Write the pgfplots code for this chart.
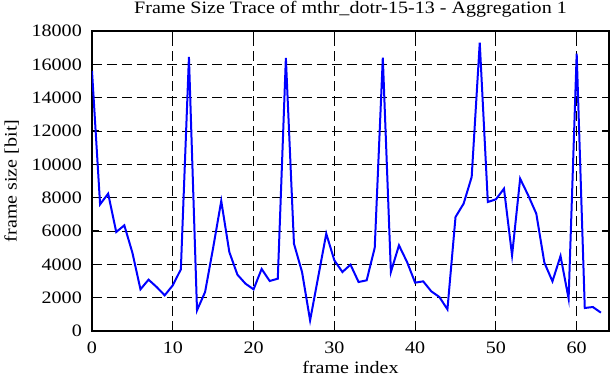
\documentclass[border=0pt]{standalone}
\usepackage{fontspec}
\setmainfont[FakeStretch=1.15]{Liberation Serif}
\usepackage{pgfplots}
\pgfplotsset{compat=1.18}
\begin{document}
\begin{tikzpicture}
\begin{axis}[
  scale only axis,
  width=517bp, height=300bp,
  xmin=0, xmax=64, ymin=0, ymax=18000,
  xtick={0,10,...,60},
  ytick={0,2000,...,18000},
  scaled y ticks=false,
  xticklabel={\pgfmathprintnumber[assume math mode=true,fixed,1000 sep={}]{\tick}},
  yticklabel={\pgfmathprintnumber[assume math mode=true,fixed,1000 sep={}]{\tick}},
  yticklabel style={anchor=east, inner sep=0pt, xshift=-10bp},
  xticklabel style={anchor=base, inner sep=0pt, yshift=-22bp},
  tick label style={font=\fontsize{17.5}{20}\selectfont},
  label style={font=\fontsize{17.5}{20}\selectfont},
  every axis title shift=0pt,
  title style={font=\fontsize{17.5}{20}\selectfont, at={(axis description cs:0.5,1.0567)}, anchor=base, inner sep=0pt},
  title={Frame Size Trace of mthr\_dotr-15-13 - Aggregation 1},
  xlabel={frame index},
  ylabel={frame size [bit]},
  xlabel style={at={(axis description cs:0.5,-0.14)}, anchor=base, inner sep=0pt},
  ylabel style={at={(axis description cs:-0.146,0.5)}, anchor=base, inner sep=0pt},
  grid=major,
  major grid style={black, dash pattern=on 10bp off 5bp, line width=0.9bp},
  tick style={black, line width=1bp},
  major tick length=7bp,
  tick align=inside,
  axis line style={line width=1.7bp},
]
\addplot[color={rgb,255:red,0;green,0;blue,255}, line width=2bp, mark=none] coordinates {
(0,15600) (1,7600) (2,8240) (3,5940) (4,6340) (5,4700) (6,2500) (7,3080)
(8,2640) (9,2140) (10,2740) (11,3700) (12,16440) (13,1240) (14,2340) (15,5000)
(16,7800) (17,4740) (18,3380) (19,2840) (20,2500) (21,3720) (22,3000) (23,3140)
(24,16380) (25,5240) (26,3540) (27,640) (28,3240) (29,5840) (30,4240) (31,3540)
(32,3980) (33,2940) (34,3040) (35,5000) (36,16400) (37,3540) (38,5140) (39,4140)
(40,2900) (41,2980) (42,2380) (43,2040) (44,1300) (45,6840) (46,7640) (47,9240)
(48,17300) (49,7740) (50,7900) (51,8540) (52,4540) (53,9140) (54,8140) (55,7040)
(56,4100) (57,2980) (58,4500) (59,1940) (60,16640) (61,1380) (62,1440) (63,1100)
};
\end{axis}
\pgfresetboundingbox
\path[use as bounding box] ([shift={(-92bp,-51bp)}]current axis.south west) rectangle ([shift={(3bp,31bp)}]current axis.north east);
\end{tikzpicture}
\end{document}
